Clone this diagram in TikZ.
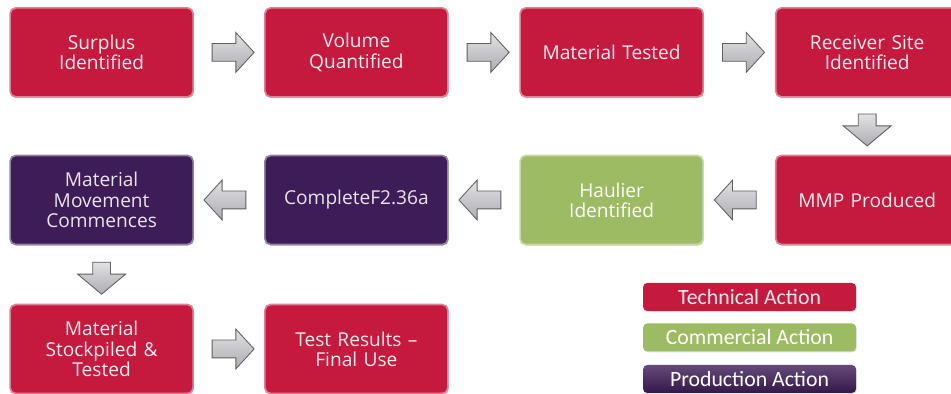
\documentclass[tikz,border=0pt]{standalone}
\usepackage{fontspec}
\setmainfont{Open Sans}
\newfontfamily\legendfont{Carlito}
\usetikzlibrary{positioning, shapes.arrows, calc, shadows}
\definecolor{techred}{RGB}{197,26,62}
\definecolor{comgreen}{RGB}{157,187,98}
\definecolor{prodpurple}{RGB}{62,28,88}
\definecolor{arrowgray}{RGB}{172,172,178}
\tikzset{
  stepbox/.style={draw=#1!55!white, line width=1.2pt, fill=#1, rounded corners=4pt,
    minimum width=4.575cm, minimum height=2.225cm, text width=4.3cm, align=center,
    font=\fontsize{13.6}{14.4}\selectfont,
    drop shadow={opacity=0.45, shadow xshift=0.5pt, shadow yshift=-0.8pt}},
  techbox/.style={stepbox=techred, text=techred!8!white},
  combox/.style={stepbox=comgreen, text=white},
  prodbox/.style={stepbox=prodpurple, text=prodpurple!12!white},
  legbox/.style={rounded corners=3pt, minimum width=5.325cm, minimum height=0.7cm,
    inner sep=0, font=\legendfont\fontsize{15.5}{17}\selectfont,
    drop shadow={opacity=0.25, shadow xshift=0.4pt, shadow yshift=-0.6pt}},
  blockarrow/.style={single arrow, draw=arrowgray!55!black, line width=0.6pt,
    top color=arrowgray!35!white, bottom color=arrowgray, inner sep=0.2125cm,
    minimum height=1.05cm, single arrow head extend=0.275cm, single arrow tip angle=95},
  rarrow/.style={blockarrow},
  larrow/.style={blockarrow, shape border rotate=180},
  darrow/.style={blockarrow, shape border rotate=270, minimum height=0.8cm,
    single arrow head extend=0.375cm, single arrow tip angle=100}
}

\begin{document}
\begin{tikzpicture}

\path[use as bounding box, clip] (0,0) rectangle (23.775,9.85);
\fill[white] (0,0) rectangle (23.775,9.85);


% first row
\node [techbox] (surplus) at (2.54,8.54) {Surplus\\Identified};
\node [techbox] (volume) at (8.91,8.54) {Volume\\Quantified};
\node [techbox] (tested) at (15.29,8.54) {Material Tested};
\node [techbox] (receiver) at (21.68,8.54) {Receiver Site\\Identified};


% second row
\node [prodbox] (commence) at (2.54,4.85) {Material\\Movement\\Commences};
\node [prodbox] (complete) at (8.91,4.85) {CompleteF2.36a};
\node [combox] (haulier) at (15.29,4.85) {Haulier\\Identified};
\node [techbox] (mmp) at (21.68,4.85) {MMP Produced};


% third row
\node [techbox] (stockpile) at (2.54,1.125) {Material\\Stockpiled \&\\Tested};
\node [techbox] (results) at (8.91,1.125) {Test Results --\\Final Use};


% arrows
\node [rarrow] at ($(surplus.east)!0.5!(volume.west)$) {};
\node [rarrow] at ($(volume.east)!0.5!(tested.west)$) {};
\node [rarrow] at ($(tested.east)!0.5!(receiver.west)$) {};
\node [darrow] at ($(receiver.south)!0.5!(mmp.north)$) {};
\node [larrow] at ($(mmp.west)!0.5!(haulier.east)$) {};
\node [larrow] at ($(haulier.west)!0.5!(complete.east)$) {};
\node [larrow] at ($(complete.west)!0.5!(commence.east)$) {};
\node [darrow] at ($(commence.south)!0.5!(stockpile.north)$) {};
\node [rarrow] at ($(stockpile.east)!0.5!(results.west)$) {};


% legend
\node [legbox, fill=techred, text=techred!8!white] (legtech) at (18.74,2.425) {Technical Action};
\node [legbox, fill=comgreen, text=white] (legcom) at (18.74,1.4125) {Commercial Action};
\node [legbox, top color=prodpurple!80!white, bottom color=prodpurple!85!black,
  text=white] (legprod) at (18.74,0.375) {Production Action};


\end{tikzpicture}
\end{document}
